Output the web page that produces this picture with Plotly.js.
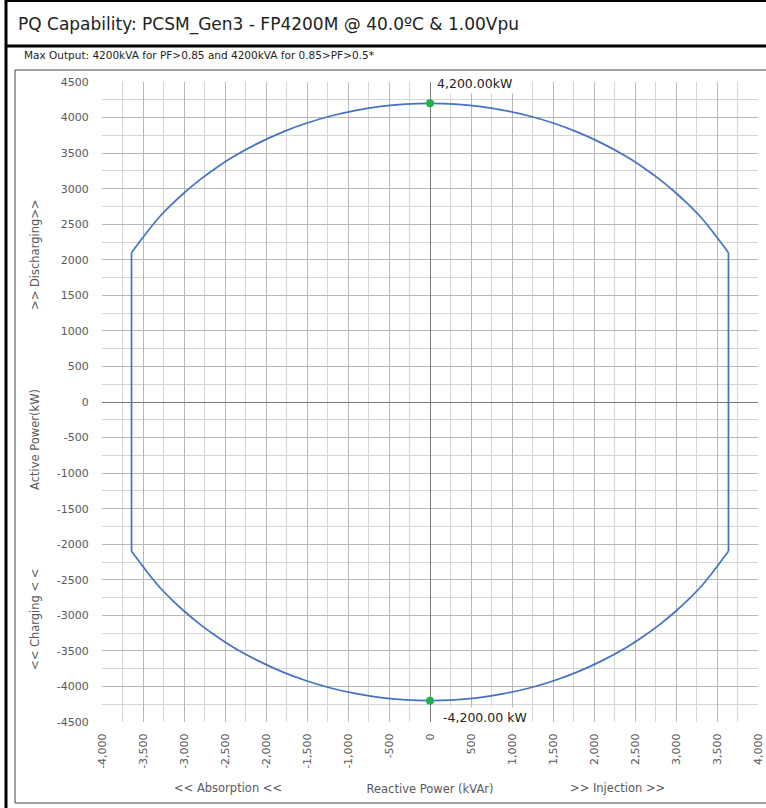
<!DOCTYPE html>
<html>
<head>
<meta charset="utf-8">
<script src="https://cdn.plot.ly/plotly-3.0.1.min.js"></script>
<style>
  html, body { margin: 0; padding: 0; background: #ffffff; }
  #chart { width: 766px; height: 808px; }
</style>
</head>
<body>
<div id="chart"></div>
<script>
// ---- Data ----
// PQ capability boundary, Q in kVAr, P in kW
// Upper arc (discharging), from Q = -3640 to +3640
const upperArcQ = [-3640, -3450, -3300, -3150, -3000, -2800, -2600, -2400, -2100, -1800, -1500, -1200, -900, -600, -300, 0,
                   300, 600, 900, 1200, 1500, 1800, 2100, 2400, 2600, 2800, 3000, 3150, 3300, 3450, 3640];
const upperArcP = [2100, 2390, 2601, 2778, 2939, 3130, 3298, 3448, 3637, 3795, 3923, 4025, 4102, 4157, 4189, 4200,
                   4189, 4157, 4102, 4025, 3923, 3795, 3637, 3448, 3298, 3130, 2939, 2778, 2601, 2390, 2100];
// Lower arc (charging), from Q = -3640 to +3640
const lowerArcQ = [-3640, -3450, -3300, -3150, -3000, -2800, -2600, -2400, -2100, -1800, -1500, -1200, -900, -600, -300, 0,
                   300, 600, 900, 1200, 1500, 1800, 2100, 2400, 2600, 2800, 3000, 3150, 3300, 3450, 3640];
const lowerArcP = [-2100, -2390, -2601, -2778, -2939, -3130, -3298, -3448, -3637, -3795, -3923, -4025, -4102, -4157, -4189, -4200,
                   -4189, -4157, -4102, -4025, -3923, -3795, -3637, -3448, -3298, -3130, -2939, -2778, -2601, -2390, -2100];
// Vertical PF = 0.5 limits
const leftLimitQ = [-3640, -3640];
const leftLimitP = [2100, -2100];
const rightLimitQ = [3640, 3640];
const rightLimitP = [2100, -2100];

// Highlighted points (max discharge / max charge)
const markerQ = [0, 0];
const markerP = [4200, -4200];
const markerLabels = ["4,200.00kW", "-4,200.00 kW"];

// Axis ticks
const xTickVals = [-4000, -3500, -3000, -2500, -2000, -1500, -1000, -500, 0, 500, 1000, 1500, 2000, 2500, 3000, 3500, 4000];
const xTickText = ["-4,000", "-3,500", "-3,000", "-2,500", "-2,000", "-1,500", "-1,000", "-500", "0", "500", "1,000", "1,500", "2,000", "2,500", "3,000", "3,500", "4,000"];
const yTickVals = [4500, 4000, 3500, 3000, 2500, 2000, 1500, 1000, 500, 0, -500, -1000, -1500, -2000, -2500, -3000, -3500, -4000, -4500];
const yTickText = ["4500", "4000", "3500", "3000", "2500", "2000", "1500", "1000", "500", "0", "-500", "-1000", "-1500", "-2000", "-2500", "-3000", "-3500", "-4000", "-4500"];

// Texts
const chartTitle = "PQ Capability: PCSM_Gen3 - FP4200M @ 40.0ºC & 1.00Vpu";
const subTitle = "Max Output: 4200kVA for PF>0.85 and 4200kVA for 0.85>PF>0.5*";
const xTitle = "Reactive Power (kVAr)";
const xLeftNote = "<< Absorption <<";
const xRightNote = ">> Injection >>";
const yTitle = "Active Power(kW)";
const yTopNote = ">> Discharging>>";
const yBottomNote = "<< Charging < <";

// ---- Layout geometry (pixels) ----
const W = 766, H = 808;
const PL = 102, PR = 758, PT = 82, PB = 722;
const px = x => (x - PL) / (PR - PL);
const py = y => (PB - y) / (PB - PT);

const FONT = "DejaVu Sans, Lato, sans-serif";
const GRAYTXT = "#595959";
const LINE = { color: "#4472c4", width: 1.7 };

const traces = [
  { type: "scatter", mode: "lines", x: upperArcQ, y: upperArcP, line: Object.assign({ shape: "spline", smoothing: 0.6 }, LINE), hoverinfo: "skip", showlegend: false },
  { type: "scatter", mode: "lines", x: rightLimitQ, y: rightLimitP, line: LINE, hoverinfo: "skip", showlegend: false },
  { type: "scatter", mode: "lines", x: lowerArcQ, y: lowerArcP, line: Object.assign({ shape: "spline", smoothing: 0.6 }, LINE), hoverinfo: "skip", showlegend: false },
  { type: "scatter", mode: "lines", x: leftLimitQ, y: leftLimitP, line: LINE, hoverinfo: "skip", showlegend: false },
  { type: "scatter", mode: "markers", x: markerQ, y: markerP, marker: { color: "#22b14c", size: 8 }, hoverinfo: "skip", showlegend: false }
];

const annotations = [
  { xref: "paper", yref: "paper", x: px(22), y: py(55), xanchor: "left", yanchor: "middle",
    text: subTitle, showarrow: false, font: { family: FONT, size: 10.5, color: "#222" } },
  { xref: "paper", yref: "paper", x: px(228), y: py(788), xanchor: "center", yanchor: "middle",
    text: xLeftNote, showarrow: false, font: { family: FONT, size: 11.5, color: GRAYTXT } },
  { xref: "paper", yref: "paper", x: px(617), y: py(788), xanchor: "center", yanchor: "middle",
    text: xRightNote, showarrow: false, font: { family: FONT, size: 11.5, color: GRAYTXT } },
  { xref: "paper", yref: "paper", x: px(35), y: py(440), xanchor: "center", yanchor: "middle", textangle: -90,
    text: yTitle, showarrow: false, font: { family: FONT, size: 11.5, color: GRAYTXT } },
  { xref: "paper", yref: "paper", x: px(35), y: py(255), xanchor: "center", yanchor: "middle", textangle: -90,
    text: yTopNote, showarrow: false, font: { family: FONT, size: 11.5, color: GRAYTXT } },
  { xref: "paper", yref: "paper", x: px(35), y: py(620), xanchor: "center", yanchor: "middle", textangle: -90,
    text: yBottomNote, showarrow: false, font: { family: FONT, size: 11.5, color: GRAYTXT } },
  { xref: "x", yref: "y", x: markerQ[0], y: markerP[0], xanchor: "left", yanchor: "middle",
    xshift: 4, yshift: 20, text: markerLabels[0], showarrow: false, bgcolor: "#ffffff", borderpad: 2,
    font: { family: FONT, size: 12.5, color: "#222" } },
  { xref: "x", yref: "y", x: markerQ[1], y: markerP[1], xanchor: "left", yanchor: "middle",
    xshift: 10, yshift: -17, text: markerLabels[1], showarrow: false, bgcolor: "#ffffff", borderpad: 2,
    font: { family: FONT, size: 12.5, color: "#222" } }
];

const shapes = [
  { type: "line", xref: "paper", yref: "paper", x0: px(6), x1: px(6), y0: py(0), y1: py(H), line: { color: "#000", width: 3 } },
  { type: "line", xref: "paper", yref: "paper", x0: px(5), x1: px(W), y0: py(1), y1: py(1), line: { color: "#000", width: 2 } },
  { type: "line", xref: "paper", yref: "paper", x0: px(5), x1: px(W), y0: py(46), y1: py(46), line: { color: "#000", width: 3 } },
  { type: "rect", xref: "paper", yref: "paper", x0: px(15), x1: px(W + 5), y0: py(70), y1: py(803), line: { color: "#444", width: 1 }, fillcolor: "rgba(0,0,0,0)" }
];

const axisCommon = {
  tickfont: { family: FONT, size: 11, color: GRAYTXT },
  tickmode: "array",
  ticks: "outside", tickcolor: "rgba(0,0,0,0)",
  showgrid: true, gridcolor: "#b8b8b8", gridwidth: 1,
  minor: { dtick: 250, tick0: 0, showgrid: true, gridcolor: "#d6d6d6", gridwidth: 1 },
  zeroline: true, zerolinecolor: "#7a7a7a", zerolinewidth: 1,
  showline: false, fixedrange: true, automargin: false
};

const layout = {
  width: W, height: H,
  margin: { l: PL, r: W - PR, t: PT, b: H - PB, pad: 0 },
  paper_bgcolor: "#ffffff", plot_bgcolor: "#ffffff",
  font: { family: FONT, size: 11, color: GRAYTXT },
  title: {
    text: chartTitle, xref: "container", yref: "container",
    x: 18 / W, y: 1 - 24 / H, xanchor: "left", yanchor: "middle",
    font: { family: FONT, size: 17, color: "#222" }
  },
  showlegend: false,
  xaxis: Object.assign({}, axisCommon, {
    range: [-4000, 4000], tickvals: xTickVals, ticktext: xTickText,
    tickangle: -90, ticklen: 6,
    title: { text: xTitle, standoff: 17, font: { family: FONT, size: 11.5, color: GRAYTXT } }
  }),
  yaxis: Object.assign({}, axisCommon, {
    range: [-4500, 4500], tickvals: yTickVals, ticktext: yTickText, ticklen: 10
  }),
  annotations: annotations,
  shapes: shapes
};

Plotly.newPlot("chart", traces, layout, { displayModeBar: false, staticPlot: true });
</script>
</body>
</html>
